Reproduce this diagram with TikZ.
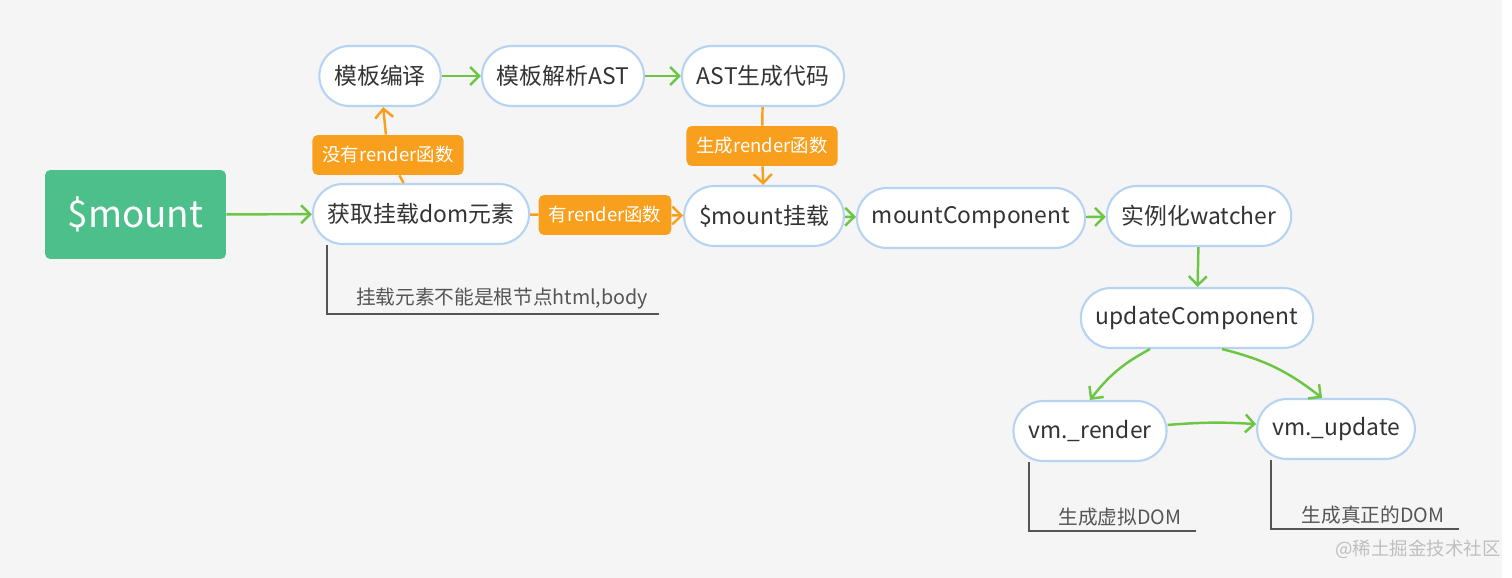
\documentclass[tikz,border=0pt]{standalone}
\usepackage{fontspec}
\setmainfont{Noto Sans CJK SC}
\usetikzlibrary{arrows.meta}
\definecolor{paper}{HTML}{F5F5F5}
\definecolor{mintgreen}{HTML}{4DBF8A}
\definecolor{linkgreen}{HTML}{6CC644}
\definecolor{tagorange}{HTML}{F8A01E}
\definecolor{pillblue}{HTML}{B7D3F2}
\definecolor{inktext}{HTML}{333333}
\definecolor{notegray}{HTML}{555555}

\begin{document}
\begin{tikzpicture}[x=0.02cm,y=-0.02cm,
    pill/.style={draw=pillblue,line width=1.2pt,fill=white,rounded corners=0.6cm,
      minimum height=1.2cm,inner xsep=0.3cm,text=inktext,font=\fontsize{13}{15}\selectfont},
    tag/.style={fill=tagorange,rounded corners=3pt,minimum height=0.8cm,inner xsep=0.2cm,
      text=white,font=\fontsize{10.5}{12}\selectfont},
    go/.style={draw=linkgreen,line width=1.4pt,-{Straight Barb[length=1.8mm,width=3.6mm]}},
    og/.style={draw=tagorange,line width=1.4pt},
    ogo/.style={og,-{Straight Barb[length=1.8mm,width=3.6mm]}},
    bracket/.style={draw=notegray,line width=0.8pt},
    note/.style={text=notegray,font=\fontsize{11.2}{13}\selectfont}]
        \useasboundingbox (0,0) rectangle (1512,578);
        \fill [white] (0,0) rectangle (1512,578);
        \fill [paper] (0,0) rectangle (1502,578);
        % main flow
        \node [fill=mintgreen,rounded corners=3pt,minimum width=3.62cm,minimum height=1.78cm,
          text=white,font=\fontsize{21}{24}\selectfont] (mount) at (135.5,214.5) {\$mount};
        \node [pill] (getdom) at (421,214) {获取挂载dom元素};
        \node [pill] (compile) at (380,76) {模板编译};
        \node [pill] (parse) at (563,76) {模板解析AST};
        \node [pill] (astcode) at (763,76) {AST生成代码};
        \node [pill] (mountit) at (764,216) {\$mount挂载};
        \node [pill] (mountcomp) at (971,218) {mountComponent};
        \node [pill] (watcher) at (1199,216) {实例化watcher};
        \node [pill] (updcomp) at (1197,318) {updateComponent};
        \node [pill] (vmrender) at (1090,431) {vm.\_render};
        \node [pill] (vmupdate) at (1336,429) {vm.\_update};
        % orange branch labels
        \node [tag] (norender) at (388,155) {没有render函数};
        \node [tag] (mkrender) at (762,146) {生成render函数};
        \node [tag] (hasrender) at (605,215) {有render函数};
        % connectors
        \draw [go] (mount) -- (getdom);
        \draw [og] (getdom) -- (norender);
        \draw [ogo] (norender) -- (compile);
        \draw [go] (compile) -- (parse);
        \draw [go] (parse) -- (astcode);
        \draw [og] (astcode) -- (mkrender);
        \draw [ogo] (mkrender) -- (mountit);
        \draw [og] (getdom) -- (hasrender);
        \draw [ogo] (hasrender) -- (mountit);
        \draw [go] (mountit) -- (mountcomp);
        \draw [go] (mountcomp) -- (watcher);
        \draw [go] (watcher) -- (updcomp);
        \draw [go] ([xshift=-0.94cm]updcomp.south) to [bend right=12] (vmrender.north);
        \draw [go] ([xshift=0.5cm]updcomp.south) to [bend left=12] ([xshift=-0.28cm]vmupdate.north);
        \draw [go] (vmrender) to [bend left=4] (vmupdate);
        % notes
        \coordinate (n1) at (327,314);
        \coordinate (n2) at (1029,531);
        \coordinate (n3) at (1271,529);
        \draw [bracket] (getdom.south -| n1) -- (n1) -- ++(332,0);
        \node [note] (note1) at (502,299) {挂载元素不能是根节点html,body};
        \draw [bracket] (vmrender.south -| n2) -- (n2) -- ++(167,0);
        \node [note] (note2) at (1120,517) {生成虚拟DOM};
        \draw [bracket] (vmupdate.south -| n3) -- (n3) -- ++(188,0);
        \node [note] (note3) at (1373,515) {生成真正的DOM};
        \node [text=black!25,font=\fontsize{10.5}{12}\selectfont] (mark) at (1418,549) {@稀土掘金技术社区};
\end{tikzpicture}
\end{document}
